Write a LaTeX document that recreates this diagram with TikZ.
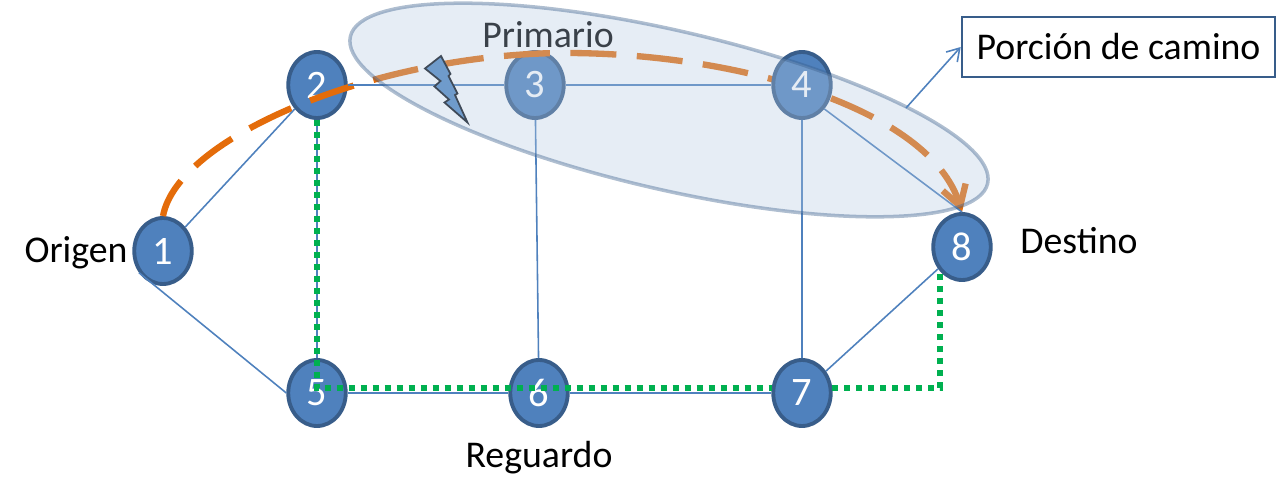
\documentclass[tikz,border=0pt]{standalone}
\usepackage{fontspec}
\setmainfont{Carlito}
\usetikzlibrary{arrows.meta, shapes.geometric}

\definecolor{nodeblue}{HTML}{4F81BD}
\definecolor{nodeedge}{HTML}{385D8A}
\definecolor{areablue}{HTML}{B3C8E0}
\definecolor{pathorange}{HTML}{E46C0A}
\definecolor{pathgreen}{HTML}{00B050}
\definecolor{boltblue}{HTML}{6F9BCB}
\definecolor{boltedge}{HTML}{3F4A58}

\tikzset{
    label text/.style={font=\fontsize{21.5}{25}\selectfont, text=black, inner sep=0pt},
    router/.style={ellipse, draw=nodeedge, fill=nodeblue, line width=2.2pt, minimum width=1.15cm,
        minimum height=1.32cm, inner sep=0pt, text=white, font=\fontsize{23}{25}\selectfont},
    link/.style={draw=nodeblue, line width=0.9pt},
    primary path/.style={draw=pathorange, line width=3.6pt, dash pattern=on 0.92cm off 0.41cm, dash phase=0.12cm},
    backup path/.style={draw=pathgreen, line width=3.4pt, dash pattern=on 0.12cm off 0.12cm},
}

\begin{document}
\begin{tikzpicture}[node distance = 2cm]
    \useasboundingbox (0,0) rectangle (25.72,10.04);

    \node (N_1) [router] at (3.26,5.02) {1};
    \node (N_2) [router] at (6.34,8.34) {2};
    \node (N_3) [router, right of=N_2, node distance=4.36cm] {3};
    \node (N_5) [router, below of=N_2, node distance=6.16cm] {5};
    \node (N_6) [router, right of=N_5, node distance=4.44cm] {6};
    \node (N_7) [router, right of=N_6, node distance=5.26cm] {7};
    \node (N_8) [router] at (19.24,5.10) {8};

    \node (origen) [label text, left of=N_1, node distance=1.74cm, yshift=-0.04cm] {Origen};
    \node (destino) [label text, right of=N_8, node distance=2.34cm, yshift=0.12cm] {Destino};
    \node (reguardo) [label text, below of=N_6, node distance=1.3cm] {Reguardo};
    \node (primario) [label text] at (10.96,9.34) {Primario};

    % primary route, node 4 sits on top of it
    \coordinate (top) at (11.2,8.98);
    \draw[primary path, -{Straight Barb[length=0.4cm, width=0.48cm]}] (N_1.north)
        .. controls (3.55,7.3) and (7.5,8.94) .. (top)
        .. controls (14.8,9.0) and (18.6,7.84) .. (N_8.north);
    \node (N_4) [router, right of=N_3, node distance=5.34cm] {4};

    \draw[link] (N_1) -- (N_2);
    \draw[link] (N_1.222) -- (N_5.west);
    \draw[link] (N_2) -- (N_3) -- (N_4);
    \draw[link] (N_2) -- (N_5);
    \draw[link] (N_3) -- (N_6);
    \draw[link] (N_4) -- (N_7);
    \draw[link] (N_4.-47) -- (N_8.north);
    \draw[link] (N_5) -- (N_6) -- (N_7);
    \draw[link] (N_7) -- (N_8);

    % backup route
    \draw[backup path] (N_2.south) |- (N_7.171);
    \draw[backup path] (N_7.9) -| (N_8.229);

    % path portion
    \node (portion) [ellipse, rotate=-13, minimum width=13.08cm, minimum height=3.18cm,
        fill=areablue, fill opacity=0.33, draw=nodeedge, draw opacity=0.4, line width=2pt] at (13.38,7.84) {};

    % failure
    \draw[fill=boltblue, draw=boltedge, line width=1pt, line join=miter] (8.82,8.92) -- (8.50,8.67)
        -- (8.81,8.42) -- (8.69,8.31) -- (8.98,8.05) -- (8.89,7.99) -- (9.35,7.59) -- (9.10,8.14)
        -- (9.15,8.17) -- (8.97,8.52) -- (9.01,8.56) -- cycle;

    \node (box) [label text, draw=nodeedge, line width=1.5pt, minimum width=6.26cm, minimum height=1.2cm]
        at (22.37,9.10) {Porción de camino};
    \coordinate (edge) at (18.12,7.88);
    \draw[link, -{Straight Barb[length=0.24cm, width=0.3cm]}] (edge) -- (box.west);
\end{tikzpicture}
\end{document}
